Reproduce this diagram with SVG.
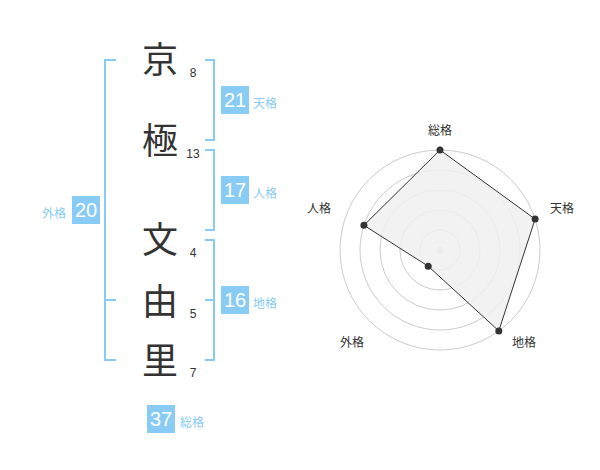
<svg xmlns="http://www.w3.org/2000/svg" width="600" height="470" viewBox="0 0 600 470">
<style>
.kj{font-family:"Noto Sans CJK JP","Noto Sans",sans-serif;font-size:36px;fill:#333;text-anchor:middle}
.num{font-family:"Liberation Sans",Arial,sans-serif;font-size:12px;fill:#333;text-anchor:middle}
.br{fill:none;stroke:#88cbf5;stroke-width:2}
.box{fill:#88cbf5}
.bv{font-family:"Liberation Sans",Arial,sans-serif;font-size:20px;fill:#fff;text-anchor:middle}
.bl{font-family:"Noto Sans CJK JP",sans-serif;font-size:12px;fill:#88cbf5}
.ring{fill:none;stroke:#cccccc;stroke-width:1}
.rl{font-family:"Noto Sans CJK JP",sans-serif;font-size:12px;fill:#333;text-anchor:middle}
.pt{fill:#333}
</style>
<rect width="600" height="470" fill="#fff"/>
<g id="chars">
<text class="kj" x="160" y="73">京</text>
<text class="kj" x="160" y="154">極</text>
<text class="kj" x="160" y="253">文</text>
<text class="kj" x="160" y="315">由</text>
<text class="kj" x="160" y="374">里</text>
<text class="num" x="193" y="77">8</text>
<text class="num" x="193" y="158">13</text>
<text class="num" x="193" y="257">4</text>
<text class="num" x="193" y="318">5</text>
<text class="num" x="193" y="377">7</text>
</g>
<g id="connectors">
<polyline class="br" points="116,60 105,60 105,360 116,360"/>
<line class="br" x1="105" y1="300" x2="116" y2="300"/>
<polyline class="br" points="205,60 214,60 214,140 205,140"/>
<polyline class="br" points="205,150 214,150 214,230 205,230"/>
<polyline class="br" points="205,240 214,240 214,360 205,360"/>
<line class="br" x1="205" y1="300" x2="214" y2="300"/>
</g>
<g id="tenkaku">
<rect class="box" x="221" y="86" width="28" height="28"/>
<text class="bv" x="235" y="107">21</text>
<text class="bl" x="253" y="108">天格</text>
</g>
<g id="jinkaku">
<rect class="box" x="221" y="176" width="28" height="28"/>
<text class="bv" x="235" y="197">17</text>
<text class="bl" x="253" y="198">人格</text>
</g>
<g id="chikaku">
<rect class="box" x="221" y="286" width="28" height="28"/>
<text class="bv" x="235" y="307">16</text>
<text class="bl" x="253" y="308">地格</text>
</g>
<g id="gaikaku">
<rect class="box" x="72" y="196" width="28" height="28"/>
<text class="bv" x="86" y="217">20</text>
<text class="bl" x="66" y="218" text-anchor="end">外格</text>
</g>
<g id="soukaku">
<rect class="box" x="147" y="405" width="28" height="28"/>
<text class="bv" x="161" y="426">37</text>
<text class="bl" x="180" y="427">総格</text>
</g>
<g id="radar">
<circle class="ring" cx="440" cy="250" r="20"/>
<circle class="ring" cx="440" cy="250" r="40"/>
<circle class="ring" cx="440" cy="250" r="60"/>
<circle class="ring" cx="440" cy="250" r="80"/>
<circle class="ring" cx="440" cy="250" r="100"/>
<circle cx="440" cy="250" r="3.5" fill="#cccccc"/>
<polygon points="440,150 535.1,219.1 498.8,330.9 428.2,266.2 363.9,225.3" fill="#f0f0f0" fill-opacity="0.85" stroke="#333" stroke-width="1"/>
<circle class="pt" cx="440" cy="150" r="3.5"/>
<circle class="pt" cx="535.1" cy="219.1" r="3.5"/>
<circle class="pt" cx="498.8" cy="330.9" r="3.5"/>
<circle class="pt" cx="428.2" cy="266.2" r="3.5"/>
<circle class="pt" cx="363.9" cy="225.3" r="3.5"/>
<text class="rl" x="440" y="135">総格</text>
<text class="rl" x="562" y="213">天格</text>
<text class="rl" x="524" y="347">地格</text>
<text class="rl" x="352" y="347">外格</text>
<text class="rl" x="319" y="213">人格</text>
</g>
</svg>
